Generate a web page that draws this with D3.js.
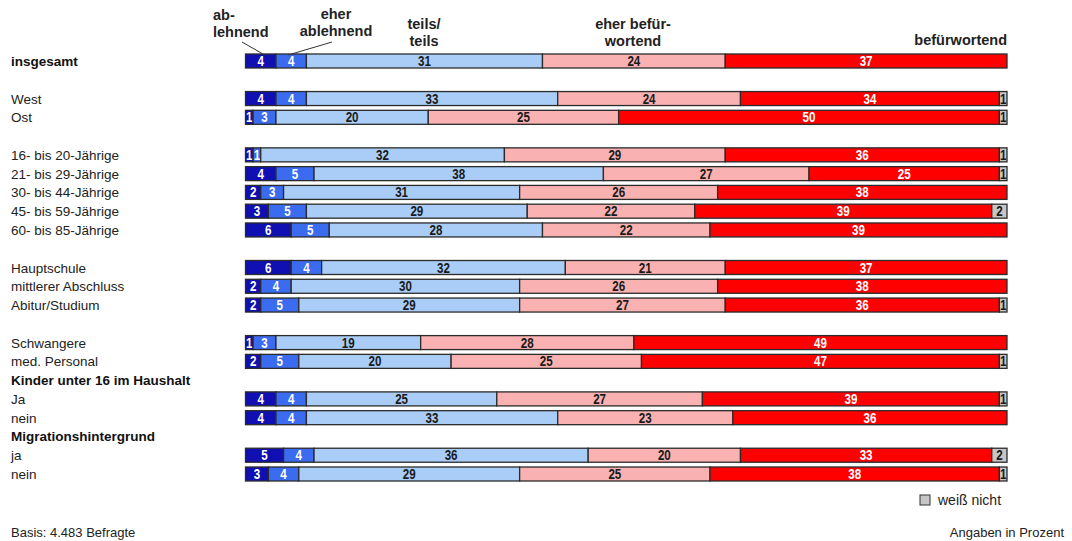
<!DOCTYPE html>
<html>
<head>
<meta charset="utf-8">
<script src="https://cdn.jsdelivr.net/npm/d3@7"></script>
<style>
  body { margin: 0; background: #fff; }
  svg { display: block; }
  .rowlab { font-family: "Liberation Sans", Arial, sans-serif; font-size: 13.5px; fill: #222; }
  .head { font-family: "Liberation Sans", Arial, sans-serif; font-size: 14.5px; font-weight: bold; fill: #222; }
  .num { font-family: "Liberation Sans", Arial, sans-serif; font-size: 14.5px; font-weight: bold; }
  .foot { font-family: "Liberation Sans", Arial, sans-serif; font-size: 13px; fill: #222; }
</style>
</head>
<body>
<div class="chart"></div>
<script>
// Zeilen (leere Strings = Abstand, Überschriften ohne Balken)
const rowLabels = [
  'insgesamt', '',
  'West', 'Ost', '',
  '16- bis 20-Jährige', '21- bis 29-Jährige', '30- bis 44-Jährige', '45- bis 59-Jährige', '60- bis 85-Jährige', '',
  'Hauptschule', 'mittlerer Abschluss', 'Abitur/Studium', '',
  'Schwangere', 'med. Personal',
  'Kinder unter 16 im Haushalt', 'Ja', 'nein',
  'Migrationshintergrund', 'ja', 'nein'
];
const boldLabels = ['insgesamt', 'Kinder unter 16 im Haushalt', 'Migrationshintergrund'];

// Antwortkategorien
const categories = ['ablehnend', 'eher ablehnend', 'teils/teils', 'eher befürwortend', 'befürwortend', 'weiß nicht'];

// Werte in Prozent (null = kein Balken)
const ablehnend         = [4, null, 4, 1, null, 1, 4, 2, 3, 6, null, 6, 2, 2, null, 1, 2, null, 4, 4, null, 5, 3];
const eherAblehnend     = [4, null, 4, 3, null, 1, 5, 3, 5, 5, null, 4, 4, 5, null, 3, 5, null, 4, 4, null, 4, 4];
const teilsTeils        = [31, null, 33, 20, null, 32, 38, 31, 29, 28, null, 32, 30, 29, null, 19, 20, null, 25, 33, null, 36, 29];
const eherBefuerwortend = [24, null, 24, 25, null, 29, 27, 26, 22, 22, null, 21, 26, 27, null, 28, 25, null, 27, 23, null, 20, 25];
const befuerwortend     = [37, null, 34, 50, null, 36, 25, 38, 39, 39, null, 37, 38, 36, null, 49, 47, null, 39, 36, null, 33, 38];
const weissNicht        = [0, null, 1, 1, null, 1, 1, 0, 2, 0, null, 0, 0, 1, null, 0, 1, null, 1, 0, null, 2, 1];

const seriesValues = [ablehnend, eherAblehnend, teilsTeils, eherBefuerwortend, befuerwortend, weissNicht];

const colors = ['#0f0fb2', '#3b6cf0', '#a9cdf7', '#f9b1b1', '#ff0000', '#c6c6c6'];
const textColors = ['#fff', '#fff', '#1a1a1a', '#1a1a1a', '#fff', '#1a1a1a'];

const width = 1072, height = 541;
const barH = 14;

const svg = d3.select('.chart').append('svg')
  .attr('width', width).attr('height', height);

const x = d3.scaleLinear().domain([0, 100]).range([245.5, 1007]);
const y = d3.scalePoint().domain(d3.range(rowLabels.length)).range([61, 474]);

// Daten für den Stack
const rows = rowLabels.map((label, i) => {
  const r = { i: i, label: label, has: ablehnend[i] !== null };
  categories.forEach((c, k) => { r[c] = seriesValues[k][i] || 0; });
  return r;
});
const barRows = rows.filter(r => r.has);
const stacked = d3.stack().keys(categories)(barRows);

// Zeilenbeschriftung
svg.append('g').selectAll('text')
  .data(rows.filter(r => r.label !== ''))
  .enter().append('text')
  .attr('class', 'rowlab')
  .attr('x', 11)
  .attr('y', d => y(d.i) + 5)
  .style('font-weight', d => boldLabels.includes(d.label) ? 'bold' : 'normal')
  .style('fill', d => boldLabels.includes(d.label) ? '#111' : '#222')
  .text(d => d.label);

// Balken
const layer = svg.append('g').selectAll('g.layer')
  .data(stacked)
  .enter().append('g')
  .attr('class', 'layer');

const segs = (s, k) => s.map(d => ({ d: d, k: k })).filter(o => o.d[1] - o.d[0] > 0);

layer.selectAll('rect')
  .data(segs)
  .enter().append('rect')
  .attr('x', o => x(o.d[0]))
  .attr('y', o => y(o.d.data.i) - barH / 2)
  .attr('width', o => x(o.d[1]) - x(o.d[0]))
  .attr('height', barH)
  .style('fill', o => colors[o.k])
  .style('stroke', '#2b2b2b')
  .style('stroke-width', 1.3);

// Zahlen schmal gestaucht (wie Arial Narrow)
layer.selectAll('text')
  .data(segs)
  .enter().append('text')
  .attr('class', 'num')
  .attr('transform', o => `translate(${(x(o.d[0]) + x(o.d[1])) / 2},${y(o.d.data.i) + 5}) scale(0.8,1)`)
  .attr('text-anchor', 'middle')
  .style('fill', o => textColors[o.k])
  .text(o => o.d[1] - o.d[0]);

// Kopfzeilen
const heads = [
  { lines: ['ab-', 'lehnend'], x: 213, y: 20, anchor: 'start' },
  { lines: ['eher', 'ablehnend'], x: 336, y: 19, anchor: 'middle' },
  { lines: ['teils/', 'teils'], x: 424, y: 29, anchor: 'middle' },
  { lines: ['eher befür-', 'wortend'], x: 633, y: 29, anchor: 'middle' },
  { lines: ['befürwortend'], x: 1007, y: 45, anchor: 'end' }
];
heads.forEach(h => {
  const t = svg.append('text').attr('class', 'head')
    .attr('text-anchor', h.anchor);
  h.lines.forEach((l, j) => {
    t.append('tspan').attr('x', h.x).attr('y', h.y + j * 16.5).text(l);
  });
});

// Hinweislinien
const y0 = y(0) - barH / 2;
svg.append('line').attr('x1', 242).attr('y1', 42).attr('x2', (x(0) + x(4)) / 2 + 4).attr('y2', y0 + 1)
  .style('stroke', '#333').style('stroke-width', 1);
svg.append('line').attr('x1', 332).attr('y1', 42).attr('x2', (x(4) + x(8)) / 2 - 3).attr('y2', y0 + 1)
  .style('stroke', '#333').style('stroke-width', 1);

// Legende
svg.append('rect').attr('x', 920).attr('y', 495).attr('width', 10).attr('height', 10)
  .style('fill', colors[5]).style('stroke', '#333').style('stroke-width', 1);
svg.append('text').attr('class', 'foot').attr('x', 938).attr('y', 505)
  .style('font-size', '14px').text('weiß nicht');

svg.append('text').attr('class', 'foot').attr('x', 11).attr('y', 537).text('Basis: 4.483 Befragte');
svg.append('text').attr('class', 'foot').attr('x', 1064).attr('y', 537)
  .attr('text-anchor', 'end').text('Angaben in Prozent');
</script>
</body>
</html>
